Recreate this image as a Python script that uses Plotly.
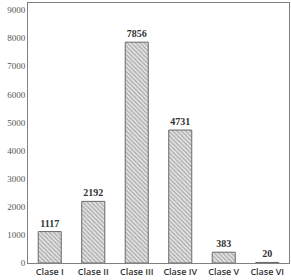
import plotly.graph_objects as go

categories = ["Clase I", "Clase II", "Clase III", "Clase IV", "Clase V", "Clase VI"]
values = [1117, 2192, 7856, 4731, 383, 20]
y_ticks = [0, 1000, 2000, 3000, 4000, 5000, 6000, 7000, 8000, 9000]

fig = go.Figure(go.Bar(
    x=categories, y=values,
    text=["<b>%d</b>" % v for v in values], textposition="outside",
    textfont=dict(family="Liberation Serif", size=10, color="#333333"),
    cliponaxis=False,
    marker=dict(color="#d0d0d0", line=dict(color="#6a6a6a", width=1),
                pattern=dict(shape="\\", fgcolor="#707070", bgcolor="#e6e6e6", size=3, solidity=0.45)),
))
fig.update_layout(
    width=291, height=280, margin=dict(l=28, r=2, t=3, b=17),
    plot_bgcolor="white", paper_bgcolor="white", bargap=0.47, showlegend=False,
)
fig.update_xaxes(showline=True, linecolor="#808080", linewidth=1, mirror=True, ticks="",
                 tickfont=dict(family="Open Sans", size=9, color="#333333", weight=600))
fig.update_yaxes(range=[0, 9250], tickvals=y_ticks, showgrid=False, zeroline=False,
                 showline=True, linecolor="#808080", linewidth=1, mirror=True, ticks="",
                 tickfont=dict(family="Liberation Serif", size=9, color="#555555"))
fig.write_html("out.html")
